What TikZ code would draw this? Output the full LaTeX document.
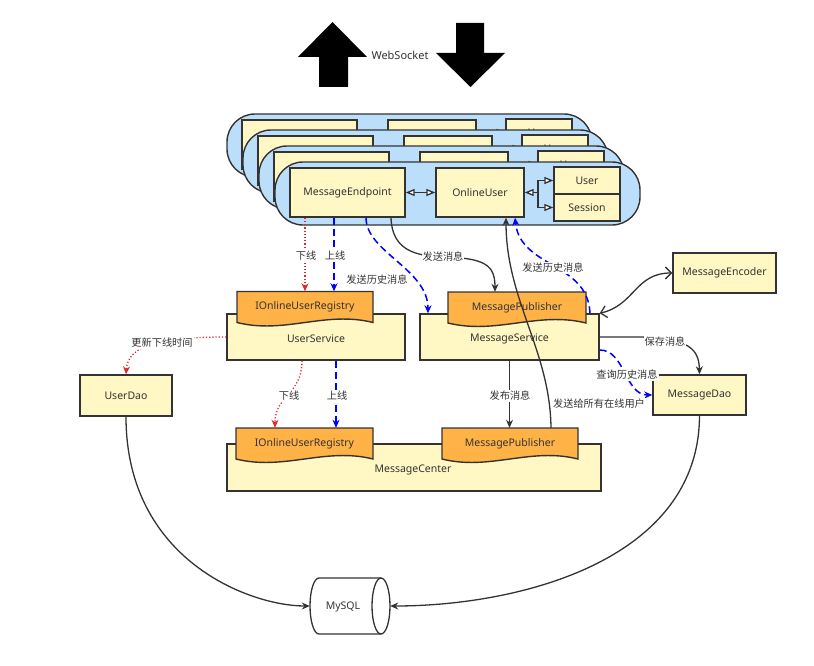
\documentclass[tikz,border=0pt]{standalone}
\usepackage{fontspec}
\setmainfont{Noto Sans}
\newfontfamily\cjk{Noto Sans CJK SC}
\usetikzlibrary{arrows.meta,shapes.geometric,calc}
\definecolor{ink}{HTML}{333333}
\definecolor{panelblue}{HTML}{BBDEFB}
\definecolor{boxyellow}{HTML}{FFF8C4}
\definecolor{taborange}{HTML}{FFB347}
\definecolor{lblue}{HTML}{0000FF}
\definecolor{lred}{HTML}{D92B2B}
\tikzset{
 every node/.style={font=\fontsize{10.5}{12}\selectfont, text=ink},
 ybox/.style={draw=ink, fill=boxyellow, line width=1.4pt, inner sep=0pt},
 panelbox/.style={draw=ink, fill=panelblue, line width=1.4pt, rounded corners=28pt, minimum width=365pt, minimum height=63pt},
 tabtext/.style={inner sep=0pt},
 tabfill/.style={draw=ink, fill=taborange, line width=1.4pt},
 lbl/.style={fill=white, inner sep=1pt, font=\cjk\fontsize{10.2}{12}\selectfont},
 conn/.style={draw=ink, line width=1.3pt, -{Stealth[length=8pt,width=7pt]}},
 bluedash/.style={draw=lblue, line width=1.5pt, dash pattern=on 7pt off 4pt, -{Stealth[length=8pt,width=7pt]}},
 reddot/.style={draw=lred, line width=1.3pt, dash pattern=on 1.2pt off 2pt, -{Stealth[length=8pt,width=7pt]}},
 agg/.style={draw=ink, line width=1.3pt},
 bigarrow/.style={fill=black},
 cyl/.style={draw=ink, fill=white, line width=1.3pt},
}
\newcommand\tabnode[6]{%
 \draw[tabfill] ({#2-#4/2},{#3-#5/2}) -- ({#2+#4/2},{#3-#5/2}) -- ({#2+#4/2},{#3+#5/2})
   .. controls ({#2+#4/2-0.35*#4},{#3+#5/2-12}) and ({#2-#4/2+0.35*#4},{#3+#5/2+12}) .. ({#2-#4/2},{#3+#5/2}) -- cycle;
 \node[tabtext, minimum width=#4pt, minimum height=#5pt] (#1) at (#2,#3) {#6};
}
\newcommand\userpanel[2]{%
 \begin{scope}[shift={(-#2,-#2)}]
  \node[panelbox] (pan#1) at (457.5,193.5) {};
  \node[ybox, minimum width=115pt, minimum height=49pt] (endp#1) at (347.5,192.5) {MessageEndpoint};
  \node[ybox, minimum width=88pt, minimum height=49pt] (onl#1) at (480,192.5) {OnlineUser};
  \node[ybox, minimum width=66pt, minimum height=27pt] (usr#1) at (587,180.5) {User};
  \node[ybox, minimum width=66pt, minimum height=27pt] (ses#1) at (587,207.5) {Session};
  \coordinate (fk#1) at (538,192.5);
  \draw[agg, {Triangle[length=9pt,width=7pt,fill=white]}-{Triangle[length=9pt,width=7pt,fill=white]}] (endp#1) -- (onl#1);
  \draw[agg, -{Triangle[length=9pt,width=7pt,fill=white]}] (fk#1) -- (onl#1.east);
  \draw[agg, -{Triangle[length=9pt,width=7pt,fill=white]}] (fk#1) |- (usr#1.west);
  \draw[agg, -{Triangle[length=9pt,width=7pt,fill=white]}] (fk#1) |- (ses#1.west);
 \end{scope}}
\begin{document}
\begin{tikzpicture}[x=1pt,y=-1pt]
\useasboundingbox (0,0) rectangle (814,666);
% websocket arrows
\fill[bigarrow] (332.5,22) -- (367,57) -- (348,57) -- (348,87) -- (319,87) -- (319,57) -- (298,57) -- cycle;
\fill[bigarrow] (456,23) -- (484,23) -- (484,53) -- (505,53) -- (470.5,87) -- (436,53) -- (456,53) -- cycle;
\node[font=\fontsize{11}{12}\selectfont] (ws) at (400,55) {WebSocket};
% stacked panels
\userpanel{a}{48}
\userpanel{b}{32}
\userpanel{c}{16}
\userpanel{}{0}
% services
\node[ybox, minimum width=178pt, minimum height=46pt] (usvc) at (316,337) {};
\node (usvct) at (316,339) {UserService};
\tabnode{reg1}{305}{307}{136}{31}{IOnlineUserRegistry}
\node[ybox, minimum width=179pt, minimum height=46pt] (msvc) at (509.5,337) {};
\node (msvct) at (509.5,339) {MessageService};
\tabnode{pub1}{517}{307.5}{138}{31}{MessagePublisher}
\node[ybox, minimum width=374pt, minimum height=47pt] (mcen) at (414,467.5) {};
\node (mcent) at (413,470) {MessageCenter};
\tabnode{reg2}{304.5}{443.5}{137}{31}{IOnlineUserRegistry}
\tabnode{pub2}{510}{443.5}{136}{31}{MessagePublisher}
\node[ybox, minimum width=92pt, minimum height=41pt] (udao) at (126,395.5) {UserDao};
\node[ybox, minimum width=93pt, minimum height=40pt] (mdao) at (699.5,395) {MessageDao};
\node[ybox, minimum width=103pt, minimum height=40pt] (enc) at (724.5,273) {MessageEncoder};
% MySQL cylinder
\draw[cyl] (319,578) -- (381,578) arc[start angle=90, end angle=-90, x radius=9pt, y radius=28pt]
  -- (319,634) arc[start angle=270, end angle=90, x radius=9pt, y radius=28pt] -- cycle;
\draw[cyl, fill=none] (381,634) arc[start angle=270, end angle=90, x radius=9pt, y radius=28pt];
\node[minimum width=80pt, minimum height=56pt, inner sep=0pt] (mysql) at (350,606) {};
\node (mysqlt) at (343,607) {MySQL};
% connectors
\draw[reddot] (reg1.north |- endp.south) -- (reg1.north);
\draw[bluedash] ([xshift=-13.5pt]endp.south) -- ([xshift=-13.5pt]endp.south |- reg1.north);
\draw[bluedash] ([xshift=18.5pt]endp.south) .. controls (366,252) and (428,269) .. ([xshift=-81.5pt]msvc.north);
\draw[conn] ([xshift=43.5pt]endp.south) .. controls (392,250) and (415,256) .. (443,257) .. controls (485,258) and (495,265) .. ([xshift=-22pt]pub1.north);
\draw[bluedash] ([xshift=80.5pt]msvc.north) .. controls (588,262) and (520,268) .. ([xshift=35pt]onl.south);
\draw[conn] ([xshift=41pt]pub2.north) .. controls (550,350) and (506,300) .. ([xshift=26pt]onl.south);
\draw[agg, {Straight Barb[length=6pt,width=12pt]}-{Straight Barb[length=6pt,width=12pt]}] (msvc.north east) .. controls (635,305) and (635,273) .. (enc.west);
\draw[conn] (msvc.east) -- (640,337) .. controls (690,338) and (699,350) .. (mdao.north);
\draw[bluedash] ([yshift=-13pt]msvc.east) .. controls (625,350) and (625,395) .. (mdao.west);
\draw[conn] (msvc.south) -- (msvc.south |- pub2.north);
\draw[reddot] (usvc.west) .. controls (160,337) and (128,345) .. (udao.north);
\draw[reddot] ([xshift=-14pt]usvc.south) .. controls (302,395) and (275,395) .. ([xshift=-29.5pt]reg2.north);
\draw[bluedash] ([xshift=20pt]usvc.south) -- ([xshift=20pt]usvc.south |- reg2.north);
\draw[conn] (udao.south) .. controls (126,560) and (250,606) .. (mysql.west);
\draw[conn] (mdao.south) .. controls (699,560) and (520,606) .. (mysql.east);
% labels
\node[lbl] (t1) at (306,256) {下线};
\node[lbl] (t2) at (335,256) {上线};
\node[lbl, fill=none] (t3) at (377,280) {发送历史消息};
\node[lbl] (t4) at (443,257) {发送消息};
\node[lbl] (t5) at (553,268) {发送历史消息};
\node[lbl] (t6) at (599,404) {发送给所有在线用户};
\node[lbl] (t7) at (665,342) {保存消息};
\node[lbl] (t8) at (627,375) {查询历史消息};
\node[lbl] (t9) at (510,396) {发布消息};
\node[lbl] (t10) at (162,343) {更新下线时间};
\node[lbl] (t11) at (289,396) {下线};
\node[lbl] (t12) at (337,396) {上线};
\end{tikzpicture}
\end{document}
